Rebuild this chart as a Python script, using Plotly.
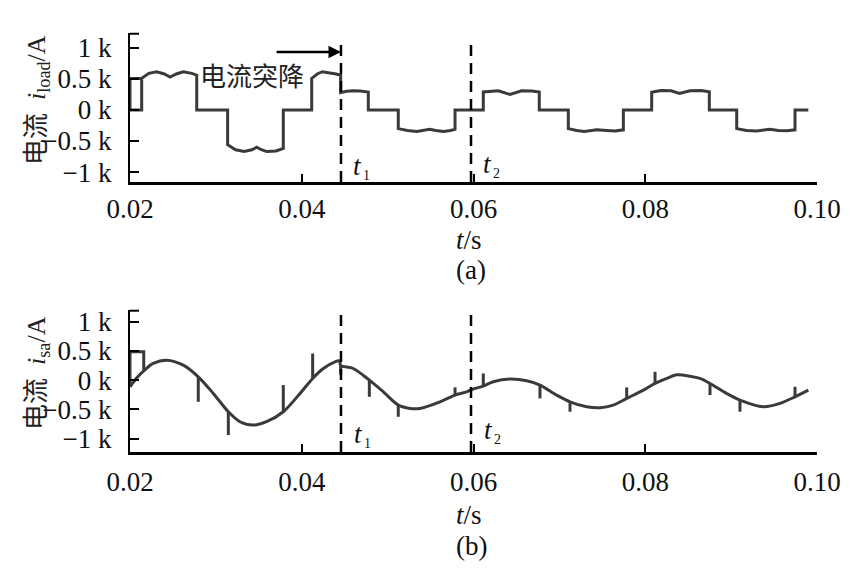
import plotly.graph_objects as go

# ---------------- data (time in ms, current in A) ----------------
# (a) load current i_load
load_t = [21.36, 20.0, 20.0, 21.36, 21.36,
          22.2, 23.1, 24.0, 24.66, 25.4, 26.2, 27.2, 27.77,
          27.77, 31.37,
          31.37, 32.3, 33.3, 34.2, 34.75, 35.3, 35.92, 37.0, 37.85,
          37.85, 41.16,
          41.16, 41.8, 42.4, 43.2, 44.0, 44.53,
          44.53, 45.2, 46.0, 46.8, 47.75,
          47.75, 51.24,
          51.24, 52.3, 53.4, 54.3, 54.9, 55.6, 56.5, 57.3, 57.85,
          57.85, 61.14,
          61.14, 62.0, 62.9, 64.25, 65.6, 66.8, 67.66,
          67.66, 71.04,
          71.04, 72.0, 72.9, 74.35, 75.5, 76.5, 77.45,
          77.45, 80.75,
          80.75, 81.8, 83.0, 84.0, 85.2, 86.5, 87.46,
          87.46, 90.65,
          90.65, 91.8, 93.0, 94.5, 95.5, 96.5, 97.44,
          97.44, 98.99]
load_i = [509, 509, 0, 0, 509,
          590, 616, 580, 530, 580, 616, 590, 560,
          0, 0,
          -560, -640, -670, -640, -600, -640, -670, -660, -620,
          0, 0,
          509, 580, 616, 600, 580, 560,
          280, 300, 310, 305, 290,
          0, 0,
          -300, -330, -345, -320, -310, -330, -345, -330, -310,
          0, 0,
          290, 305, 310, 250, 310, 305, 290,
          0, 0,
          -300, -330, -345, -320, -330, -340, -320,
          0, 0,
          285, 315, 310, 265, 310, 315, 295,
          0, 0,
          -300, -330, -340, -310, -330, -335, -320,
          0, 0]

# (b) source current i_sa : smooth base curve
src_t = [20.0, 20.8, 21.6, 22.7, 24.27, 26.2, 27.95, 29.7, 31.45, 32.8, 34.36,
         35.9, 37.85, 39.8, 41.27, 42.51, 43.87, 44.4, 44.53, 46.0, 47.87,
         49.5, 51.24, 52.6, 53.77, 56.1, 57.85, 59.2, 59.8, 61.14, 62.3,
         64.25, 66.2, 67.74, 69.68, 71.24, 73.18, 74.73, 76.28, 77.84, 79.78,
         81.14, 82.5, 83.66, 85.21, 86.37, 87.54, 89.48, 91.03, 93.75, 95.69,
         97.44, 98.99]
src_i = [-114, 40, 159, 285, 342, 256, 56, -228, -541, -712, -769,
         -712, -541, -228, 29, 199, 313, 330, 250, 199, 0,
         -200, -427, -484, -484, -371, -256, -200, -160, -103, -28,
         20, -11, -85, -256, -371, -456, -473, -427, -313, -171,
         -57, 29, 90, 68, 29, -57, -228, -342, -456, -399,
         -285, -171]

# (b) switching spikes: time, curve value, spike tip
spike_t    = [27.95, 31.45, 37.85, 41.27, 44.53, 47.87, 51.24, 57.85, 61.14,
              67.74, 71.24, 77.84, 81.14, 87.54, 91.03, 97.44]
spike_from = [56, -541, -541, 29, 250, 0, -427, -256, -103,
              -85, -371, -313, -57, -57, -342, -285]
spike_to   = [-371, -940, -85, 456, 90, -285, -627, -125, 114,
              -313, -541, -125, 142, -256, -541, -114]
# (b) start-up box at the left edge
box_t = [21.6, 21.6, 20.0, 20.0]
box_i = [159, 484, 484, -114]

# event instants (ms)
event_t = [44.57, 59.71]
event_names = ["1", "2"]

x_ticks = [20, 40, 60, 80, 100]
x_ticktext = ["0.02", "0.04", "0.06", "0.08", "0.10"]
y_ticks = [-1000, -500, 0, 500, 1000]
y_ticktext = ["\u22121 k", "\u22120.5 k", "0 k", "0.5 k", "1 k"]

# ---------------- styling ----------------
OFF = 8                      # page body margin
W, H = 866 - OFF, 570 - OFF  # figure size
LINE = "#3a3a3a"
SERIF = "Liberation Serif"
CJK = "Liberation Serif, Noto Sans CJK SC"


def px_x(p):
    return (p - OFF) / W


def px_y(p):
    return 1 - (p - OFF) / H


fig = go.Figure()

fig.add_trace(go.Scatter(x=load_t, y=load_i, mode="lines",
                         line=dict(color=LINE, width=3),
                         xaxis="x", yaxis="y", showlegend=False, hoverinfo="skip"))

fig.add_trace(go.Scatter(x=src_t, y=src_i, mode="lines",
                         line=dict(color=LINE, width=3, shape="spline", smoothing=0.9),
                         xaxis="x2", yaxis="y2", showlegend=False, hoverinfo="skip"))

sx, sy = [], []
for t, a, b in zip(spike_t, spike_from, spike_to):
    sx += [t, t, None]
    sy += [a, b, None]
sx += box_t
sy += box_i
fig.add_trace(go.Scatter(x=sx, y=sy, mode="lines",
                         line=dict(color=LINE, width=3),
                         xaxis="x2", yaxis="y2", showlegend=False, hoverinfo="skip"))

xdom = [px_x(130), px_x(817)]
common_x = dict(range=[20, 100], tickvals=x_ticks, ticktext=x_ticktext,
                ticks="inside", ticklen=8, tickwidth=2, tickcolor="black",
                showline=True, linewidth=3, linecolor="black", automargin=False,
                showgrid=False, zeroline=False, domain=xdom,
                tickfont=dict(family=SERIF, size=27, color="#111"))
common_y = dict(tickvals=y_ticks, ticktext=y_ticktext,
                ticks="inside", ticklen=9, tickwidth=2, tickcolor="black",
                showline=True, linewidth=2, linecolor="black", automargin=False,
                showgrid=False, zeroline=False, ticklabelstandoff=11,
                tickfont=dict(family=SERIF, size=27, color="#111"))

fig.update_layout(
    width=W, height=H,
    margin=dict(l=0, r=0, t=0, b=0, pad=0, autoexpand=False),
    paper_bgcolor="white", plot_bgcolor="white",
    xaxis=dict(anchor="y", ticklabelstandoff=1, **common_x),
    yaxis=dict(anchor="x", domain=[px_y(182), px_y(33)], range=[-1160, 1240], **common_y),
    xaxis2=dict(anchor="y2", ticklabelstandoff=4, **common_x),
    yaxis2=dict(anchor="x2", domain=[px_y(452), px_y(310)], range=[-1230, 1200], **common_y),
)

shapes = []
tops = [(1077, 1045), (1145, 1197)]
for k, (ax, ay) in enumerate([("x", "y"), ("x2", "y2")]):
    bottom = -1160 if k == 0 else -1230
    for j, t in enumerate(event_t):
        shapes.append(dict(type="line", xref=ax, yref=ay, x0=t, x1=t,
                           y0=bottom, y1=tops[k][j],
                           line=dict(color="black", width=2.5, dash="11px,7px")))
    # end tick at the top of each y axis
    shapes.append(dict(type="line", xref="paper", yref=ay + " domain",
                       x0=px_x(130), x1=px_x(139), y0=0.995, y1=0.995,
                       line=dict(color="black", width=2)))
fig.update_layout(shapes=shapes)

ann = []
# y-axis titles
for yc, sub in [(100, "load"), (373, "sa")]:
    ann.append(dict(xref="paper", yref="paper", x=px_x(38), y=px_y(yc), textangle=-90,
                    text="电流\u2002<i>i</i><sub>" + sub + "</sub>/A",
                    showarrow=False, xanchor="center", yanchor="middle",
                    font=dict(family=CJK, size=26, color="#222")))
# x titles and panel labels
for yt, yl, lab in [(240, 270, "(a)"), (515, 546, "(b)")]:
    ann.append(dict(xref="paper", yref="paper", x=px_x(469), y=px_y(yt),
                    text="<i>t</i>/s", showarrow=False, xanchor="center", yanchor="middle",
                    font=dict(family=SERIF, size=27, color="#111")))
    ann.append(dict(xref="paper", yref="paper", x=px_x(471), y=px_y(yl),
                    text=lab, showarrow=False, xanchor="center", yanchor="middle",
                    font=dict(family=SERIF, size=27, color="#111")))
# t1 / t2 labels (italic t with small subscript)
for (xp, yp, s) in [(351, 166, event_names[0]), (481, 164, event_names[1]),
                    (352, 434, event_names[0]), (482, 430, event_names[1])]:
    ann.append(dict(xref="paper", yref="paper", x=px_x(xp), y=px_y(yp),
                    text="<i>t</i>", showarrow=False, xanchor="left", yanchor="middle",
                    font=dict(family=SERIF, size=27, color="#111")))
    ann.append(dict(xref="paper", yref="paper", x=px_x(xp + 10), y=px_y(yp + 9),
                    text=s, showarrow=False, xanchor="left", yanchor="middle",
                    font=dict(family=SERIF, size=14, color="#111")))
# annotation text and arrow
ann.append(dict(xref="paper", yref="paper", x=px_x(252), y=px_y(77),
                text="电流突降", showarrow=False, xanchor="center", yanchor="middle",
                font=dict(family=CJK, size=26, color="#222")))
ann.append(dict(xref="x", yref="y", x=event_t[0], y=932, axref="x", ayref="y",
                ax=36.9, ay=932, text="", showarrow=True, arrowhead=2, arrowsize=1,
                arrowwidth=2.5, arrowcolor="black", standoff=0))
fig.update_layout(annotations=ann)

fig.write_html("out.html")
